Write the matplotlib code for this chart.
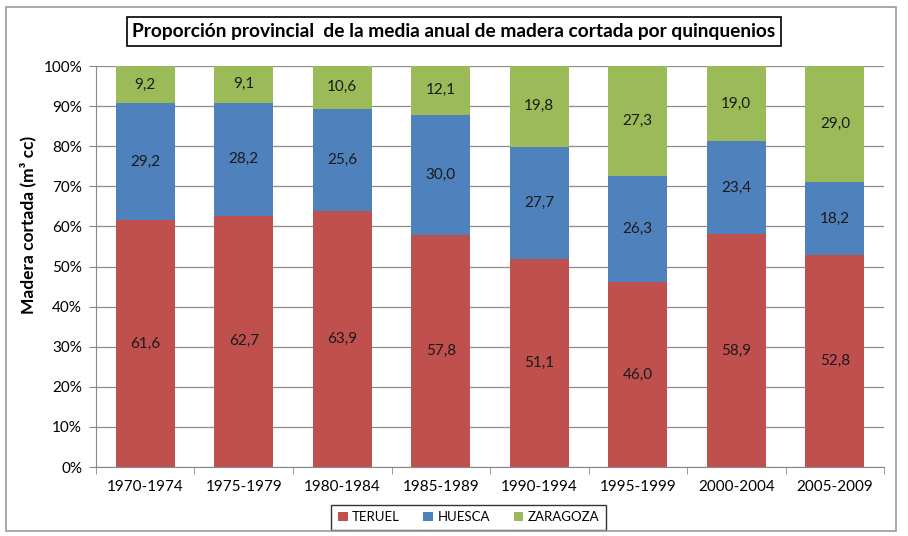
import numpy as np
import matplotlib.pyplot as plt
from matplotlib.patches import Rectangle
from matplotlib.ticker import PercentFormatter

plt.rcParams['font.family'] = ['Lato', 'DejaVu Sans']

# data
periodos = ['1970-1974', '1975-1979', '1980-1984', '1985-1989',
            '1990-1994', '1995-1999', '2000-2004', '2005-2009']
teruel = [61.6, 62.7, 63.9, 57.8, 51.1, 46.0, 58.9, 52.8]
huesca = [29.2, 28.2, 25.6, 30.0, 27.7, 26.3, 23.4, 18.2]
zaragoza = [9.2, 9.1, 10.6, 12.1, 19.8, 27.3, 19.0, 29.0]
series = [('TERUEL', teruel, '#C0504D'),
          ('HUESCA', huesca, '#4F81BD'),
          ('ZARAGOZA', zaragoza, '#9BBB59')]

fig = plt.figure(figsize=(9.08, 5.36), dpi=100)
ax = fig.add_axes([0.1057, 0.1287, 0.868, 0.748])

# 100% stacked: each bar scaled to its own total
total = np.array(teruel) + np.array(huesca) + np.array(zaragoza)
x = np.arange(len(periodos))
bottom = np.zeros(len(periodos))
for nombre, vals, color in series:
    vals = np.array(vals)
    h = vals / total * 100
    ax.bar(x, h, 0.6, bottom=bottom, color=color, label=nombre, zorder=2)
    for xi, b, hh, v in zip(x, bottom, h, vals):
        ax.text(xi, b + hh / 2, f'{v:.1f}'.replace('.', ','), ha='center', va='center',
                fontsize=11, color='#1a1a1a', zorder=3)
    bottom += h

ax.set_xlim(-0.5, len(periodos) - 0.5)
ax.set_ylim(0, 100)
ax.set_yticks(np.arange(0, 101, 10))
ax.yaxis.set_major_formatter(PercentFormatter(decimals=0))
ax.set_xticks(x)
ax.set_xticklabels(periodos)
ax.set_xticks(np.arange(-0.5, len(periodos)), minor=True)
ax.tick_params(axis='x', which='major', length=0, pad=9, labelsize=11)
ax.tick_params(axis='x', which='minor', length=5, color='#888888')
ax.tick_params(axis='y', length=5, color='#888888', labelsize=11, pad=5)
ax.grid(axis='y', color='#8c8c8c', linewidth=0.9, zorder=0)
for s in ['top', 'right']:
    ax.spines[s].set_visible(False)
for s in ['left', 'bottom']:
    ax.spines[s].set_color('#888888')

ax.set_ylabel('Madera cortada (m³ cc)', fontsize=12.5, fontweight='bold')
ax.yaxis.set_label_coords(-0.076, 0.605)

fig.text(0.5, 0.941, 'Proporción provincial  de la media anual de madera cortada por quinquenios',
         ha='center', va='center', fontsize=13.8, fontweight='bold',
         bbox=dict(boxstyle='square,pad=0.3', facecolor='white', edgecolor='black', linewidth=1.2))

leg = ax.legend(loc='center', bbox_to_anchor=(0.516, 0.035), bbox_transform=fig.transFigure,
                ncol=3, frameon=True, fancybox=False, edgecolor='black', fontsize=9.5,
                handlelength=0.75, handleheight=0.75, handletextpad=0.3, columnspacing=1.8,
                borderpad=0.5, borderaxespad=0)
leg.get_frame().set_linewidth(1.0)

fig.patches.append(Rectangle((0.007, 0.01), 0.98, 0.977, transform=fig.transFigure,
                             fill=False, edgecolor='#999999', linewidth=1.2))

fig.savefig('out.png', dpi=100)
